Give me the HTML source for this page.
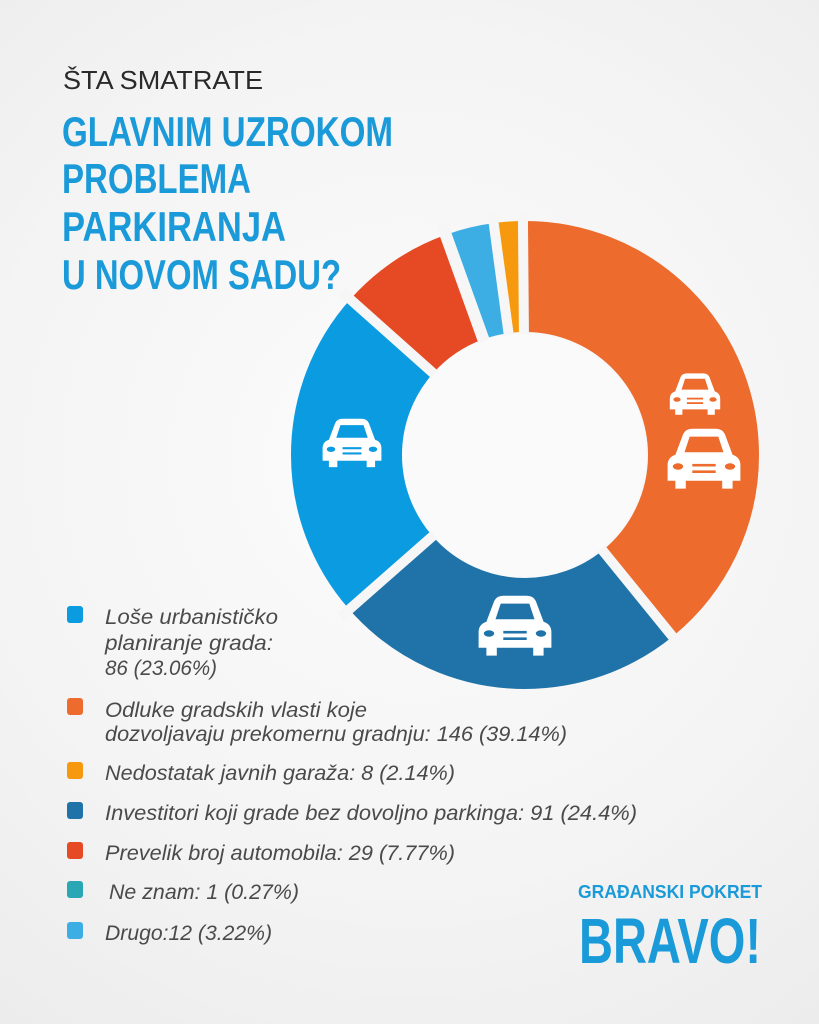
<!DOCTYPE html>
<html><head><meta charset="utf-8"><style>
html,body{margin:0;padding:0}
body{width:819px;height:1024px;overflow:hidden;background:radial-gradient(circle at 50% 45%,#fcfcfc 0%,#f4f4f4 60%,#ececec 100%);}
svg{display:block}
text{font-family:"Liberation Sans",sans-serif}
</style></head><body>
<svg width="819" height="1024" viewBox="0 0 819 1024">
<text x="63" y="89" font-size="26" fill="#2a2a2a" textLength="200" lengthAdjust="spacingAndGlyphs">ŠTA SMATRATE</text>
<g font-weight="bold" font-size="42" fill="#1a9ad8">
<text x="62" y="146" textLength="331" lengthAdjust="spacingAndGlyphs">GLAVNIM UZROKOM</text>
<text x="62" y="193" textLength="189" lengthAdjust="spacingAndGlyphs">PROBLEMA</text>
<text x="62" y="241" textLength="224" lengthAdjust="spacingAndGlyphs">PARKIRANJA</text>
<text x="62" y="289" textLength="279" lengthAdjust="spacingAndGlyphs">U NOVOM SADU?</text>
</g>
<g transform="rotate(-90 525 455)" fill="none" stroke-width="111">
<circle cx="525" cy="455" r="178.5" stroke="#ec6b2d" stroke-dasharray="438.96 2000" stroke-dashoffset="0"/>
<circle cx="525" cy="455" r="178.5" stroke="#1f73a8" stroke-dasharray="273.65 2000" stroke-dashoffset="-438.96"/>
<circle cx="525" cy="455" r="178.5" stroke="#0a9be0" stroke-dasharray="258.62 2000" stroke-dashoffset="-712.61"/>
<circle cx="525" cy="455" r="178.5" stroke="#e64a24" stroke-dasharray="87.14 2000" stroke-dashoffset="-971.23"/>
<circle cx="525" cy="455" r="178.5" stroke="#3daee4" stroke-dasharray="36.11 2000" stroke-dashoffset="-1061.4"/>
<circle cx="525" cy="455" r="178.5" stroke="#f7990e" stroke-dasharray="24.0 2000" stroke-dashoffset="-1097.51"/>
</g>
<g stroke="#f6f6f6" stroke-width="10">
<line x1="525" y1="455" x2="525" y2="210" transform="rotate(-0.5 525 455)"/>
<line x1="525" y1="455" x2="525" y2="210" transform="rotate(140.9 525 455)"/>
<line x1="525" y1="455" x2="525" y2="210" transform="rotate(228.7 525 455)"/>
<line x1="525" y1="455" x2="525" y2="210" transform="rotate(311.7 525 455)"/>
<line x1="525" y1="455" x2="525" y2="210" transform="rotate(340.2 525 455)" stroke-width="12"/>
<line x1="525" y1="455" x2="525" y2="210" transform="rotate(352.3 525 455)"/>
</g>
<circle cx="525" cy="455" r="121" fill="#fafafa"/>
<defs>
<g id="car">
<path d="M-22,-4 L-16,-20 Q-14,-24 -9,-24 L9,-24 Q14,-24 16,-20 L22,-4 Q28,-2 28,4 L28,16 L22,16 L22,22 L14,22 L14,16 L-14,16 L-14,22 L-22,22 L-22,16 L-28,16 L-28,4 Q-28,-2 -22,-4 Z" fill="#fff"/>
<path d="M-15,-6 L-11,-18 L11,-18 L15,-6 Z" fill="currentColor"/>
<rect x="-9" y="3" width="18" height="2" fill="currentColor"/><rect x="-9" y="8" width="18" height="2" fill="currentColor"/>
<ellipse cx="-20" cy="5" rx="4" ry="2.5" fill="currentColor"/><ellipse cx="20" cy="5" rx="4" ry="2.5" fill="currentColor"/>
</g>
</defs>
<use href="#car" transform="translate(352,444) scale(1.05)" color="#0a9be0"/>
<use href="#car" transform="translate(515,627) scale(1.3)" color="#1f73a8"/>
<use href="#car" transform="translate(695,395) scale(0.9)" color="#ec6b2d"/>
<use href="#car" transform="translate(704,460) scale(1.3)" color="#ec6b2d"/>
<g font-size="21" font-style="italic" fill="#4a4a4a">
<rect x="67" y="606" width="16" height="17" rx="3" fill="#0a9be0"/>
<text x="105" y="624" textLength="173" lengthAdjust="spacingAndGlyphs">Loše urbanističko</text>
<text x="105" y="650" textLength="168" lengthAdjust="spacingAndGlyphs">planiranje grada:</text>
<text x="105" y="675" textLength="112" lengthAdjust="spacingAndGlyphs">86 (23.06%)</text>
<rect x="67" y="698" width="16" height="17" rx="3" fill="#ec6b2d"/>
<text x="105" y="717" textLength="262" lengthAdjust="spacingAndGlyphs">Odluke gradskih vlasti koje</text>
<text x="105" y="741" textLength="462" lengthAdjust="spacingAndGlyphs">dozvoljavaju prekomernu gradnju: 146 (39.14%)</text>
<rect x="67" y="762" width="16" height="17" rx="3" fill="#f7990e"/>
<text x="105" y="780" textLength="350" lengthAdjust="spacingAndGlyphs">Nedostatak javnih garaža: 8 (2.14%)</text>
<rect x="67" y="802" width="16" height="17" rx="3" fill="#1f73a8"/>
<text x="105" y="820" textLength="532" lengthAdjust="spacingAndGlyphs">Investitori koji grade bez dovoljno parkinga: 91 (24.4%)</text>
<rect x="67" y="842" width="16" height="17" rx="3" fill="#e64a24"/>
<text x="105" y="860" textLength="350" lengthAdjust="spacingAndGlyphs">Prevelik broj automobila: 29 (7.77%)</text>
<rect x="67" y="881" width="16" height="17" rx="3" fill="#2aa7b5"/>
<text x="109" y="899" textLength="190" lengthAdjust="spacingAndGlyphs">Ne znam: 1 (0.27%)</text>
<rect x="67" y="922" width="16" height="17" rx="3" fill="#3daee4"/>
<text x="105" y="940" textLength="167" lengthAdjust="spacingAndGlyphs">Drugo:12 (3.22%)</text>
</g>
<text x="578" y="898" font-size="18" font-weight="bold" fill="#1a9ad8" textLength="184" lengthAdjust="spacingAndGlyphs">GRAĐANSKI POKRET</text>
<text x="579" y="963" font-size="64" font-weight="bold" fill="#1a9ad8" textLength="182" lengthAdjust="spacingAndGlyphs">BRAVO!</text>
</svg>
</body></html>
